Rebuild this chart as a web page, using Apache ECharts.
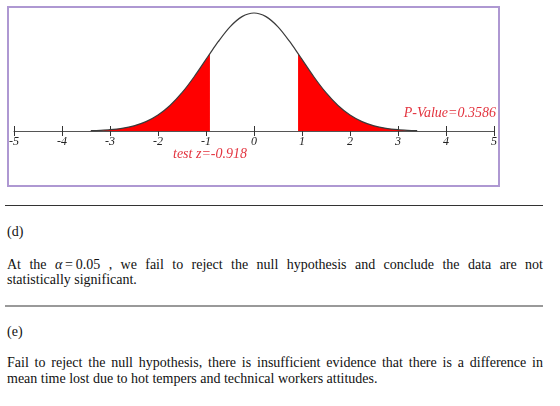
<!DOCTYPE html>
<html>
<head>
<meta charset="utf-8">
<script src="https://cdn.jsdelivr.net/npm/echarts@6/dist/echarts.min.js"></script>
<style>
  html, body { margin: 0; padding: 0; background: #fff; }
  #wrap { position: relative; width: 560px; height: 406px; overflow: hidden; }
  #chart { position: absolute; left: 0; top: 0; width: 560px; height: 200px; }
  .txt { position: absolute; font-family: "Liberation Serif", "Tinos", "DejaVu Serif", serif; font-size: 14px; line-height: 16px; color: #111; white-space: nowrap; }
  .just { text-align: justify; text-align-last: justify; width: 536px; }
  .eq { display: inline-block; }
  .hr { position: absolute; left: 5px; width: 538px; }
</style>
</head>
<body>
<div id="wrap">
  <div id="chart"></div>
  <div class="hr" style="top:205px;height:1px;background:#333;"></div>
  <div class="txt" style="left:7px;top:224px;">(d)</div>
  <div class="txt just" style="left:7px;top:257px;">At the <span class="eq"><i>α</i>&thinsp;=&thinsp;0.05</span> , we fail to reject the null hypothesis and conclude the data are not</div>
  <div class="txt" style="left:7px;top:272px;">statistically significant.</div>
  <div class="hr" style="top:305px;height:2px;background:#999;"></div>
  <div class="txt" style="left:7px;top:324px;">(e)</div>
  <div class="txt just" style="left:7px;top:355px;">Fail to reject the null hypothesis, there is insufficient evidence that there is a difference in</div>
  <div class="txt" style="left:7px;top:371px;">mean time lost due to hot tempers and technical workers attitudes.</div>
</div>
<script>
// z positions and curve heights
const zValues = [-3.4, -3.2, -3.0, -2.75, -2.5, -2.25, -2.0, -1.75, -1.5, -1.25, -1.0, -0.918, -0.75, -0.5, -0.25, 0,
                 0.25, 0.5, 0.75, 0.918, 1.0, 1.25, 1.5, 1.75, 2.0, 2.25, 2.5, 2.75, 3.0, 3.2, 3.4];
const density = [0.0012, 0.0024, 0.0044, 0.0091, 0.0175, 0.0317, 0.0540, 0.0863, 0.1295, 0.1826, 0.2420, 0.2618, 0.3011, 0.3521, 0.3867, 0.3989,
                 0.3867, 0.3521, 0.3011, 0.2618, 0.2420, 0.1826, 0.1295, 0.0863, 0.0540, 0.0317, 0.0175, 0.0091, 0.0044, 0.0024, 0.0012];
const testZ = -0.918;
const pValue = 0.3586;
const tickLabels = ['-5', '-4', '-3', '-2', '-1', '0', '1', '2', '3', '4', '5'];

const curve = zValues.map((z, i) => [z, density[i]]);
const leftTail = curve.filter(p => p[0] <= testZ);
const rightTail = curve.filter(p => p[0] >= -testZ);

const serif = '"Liberation Serif", "Tinos", "DejaVu Serif", serif';
const chart = echarts.init(document.getElementById('chart'), null, { renderer: 'canvas' });
const labelFont = { fontFamily: serif, fontStyle: 'italic', fontSize: 12, color: '#222' };
const redText = '#e3343f';

chart.setOption({
  animation: false,
  grid: { left: 14, width: 480, top: 13, height: 118, containLabel: false },
  xAxis: [
    {
      type: 'value', min: -5, max: 5, interval: 1, position: 'bottom',
      axisLine: { show: true, lineStyle: { color: '#555', width: 1 } },
      axisTick: { show: true, length: 5, lineStyle: { color: '#333', width: 1 } },
      axisLabel: Object.assign({ margin: 5, formatter: v => tickLabels[Math.round(v) + 5] }, labelFont),
      splitLine: { show: false }
    },
    {
      type: 'value', min: -5, max: 5, interval: 1, position: 'bottom',
      axisLine: { show: false },
      axisTick: { show: true, inside: true, length: 5, lineStyle: { color: '#333', width: 1 } },
      axisLabel: { show: false },
      splitLine: { show: false }
    }
  ],
  yAxis: { type: 'value', min: 0, max: 0.3989, show: false, splitLine: { show: false } },
  series: [
    {
      type: 'line', data: leftTail, smooth: 0.3, symbol: 'none', clip: false,
      lineStyle: { width: 0 }, areaStyle: { color: '#ff0000', opacity: 1 }, z: 2
    },
    {
      type: 'line', data: rightTail, smooth: 0.3, symbol: 'none', clip: false,
      lineStyle: { width: 0 }, areaStyle: { color: '#ff0000', opacity: 1 }, z: 2
    },
    {
      type: 'line', data: curve, smooth: 0.3, symbol: 'none', clip: false,
      lineStyle: { color: '#3a3a3a', width: 1.2 }, z: 3
    }
  ],
  graphic: [
    { type: 'rect', shape: { x: 8, y: 7, width: 491, height: 179 }, style: { fill: 'none', stroke: '#ae98d2', lineWidth: 2 }, silent: true },
    { type: 'text', x: 210, y: 154, style: { text: 'test z=' + testZ, fill: redText, font: 'italic 14px ' + serif, textAlign: 'center', textVerticalAlign: 'middle' } },
    { type: 'text', x: 496, y: 113, style: { text: 'P-Value=' + pValue, fill: redText, font: 'italic 14px ' + serif, textAlign: 'right', textVerticalAlign: 'middle' } }
  ]
});
</script>
</body>
</html>
